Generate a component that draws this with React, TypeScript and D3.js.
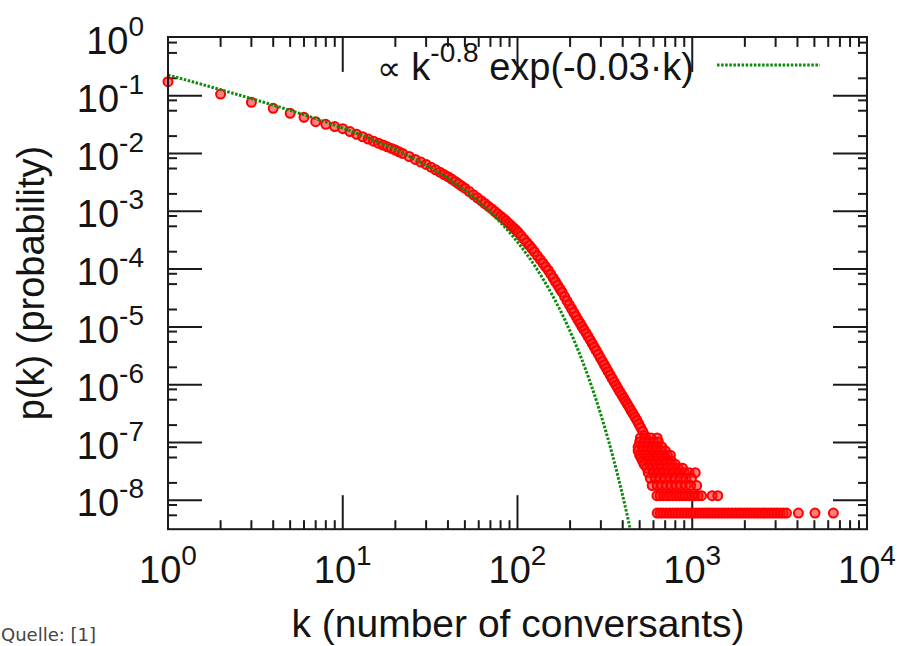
import React from "react";
import * as d3 from "d3";

// ---- data ----
const xTickExponents = [0, 1, 2, 3, 4];
const yTickExponents = [0, -1, -2, -3, -4, -5, -6, -7, -8];
const xMinorMultipliers = [2, 3, 4, 5, 6, 7, 8, 9];
const yMinorMultipliers = [2, 5.5, 8.3];

// main band: k and log10 p(k)
const mainK = [
  1, 2, 3, 4, 5, 6, 7, 8, 9, 10, 11, 12, 13, 14, 15, 16, 17, 18, 19, 20, 21, 22, 24, 26, 28, 30,
  32, 34, 36, 38, 40, 42, 44, 46, 48, 50, 53, 56, 59, 62, 65, 68, 71, 74, 77, 80, 83, 86, 89, 92,
  95, 98, 101, 105, 109, 113, 117, 121, 125, 130, 135, 140, 145, 150, 155, 160, 165, 170, 175, 180,
  186, 192, 198, 204, 210, 216, 222, 228, 234, 240, 247, 254, 261, 268, 275, 282, 290, 298, 306,
  314, 322, 330, 339, 348, 357, 366, 375, 385, 395, 405, 415, 425, 436, 447, 458, 470, 482, 494,
  506, 520, 535, 550, 565, 580,
];
const mainLog10P = [
  -0.758, -0.971, -1.114, -1.218, -1.304, -1.374, -1.45, -1.495, -1.535, -1.57, -1.621, -1.667,
  -1.71, -1.75, -1.786, -1.821, -1.853, -1.884, -1.913, -1.94, -1.97, -1.999, -2.052, -2.102,
  -2.148, -2.19, -2.237, -2.282, -2.324, -2.364, -2.402, -2.442, -2.484, -2.524, -2.563, -2.6,
  -2.659, -2.714, -2.767, -2.817, -2.865, -2.911, -2.955, -3.0, -3.043, -3.084, -3.124, -3.164,
  -3.207, -3.247, -3.287, -3.325, -3.365, -3.425, -3.482, -3.538, -3.591, -3.644, -3.701, -3.77,
  -3.836, -3.899, -3.961, -4.02, -4.088, -4.154, -4.219, -4.281, -4.341, -4.4, -4.475, -4.548,
  -4.618, -4.686, -4.752, -4.817, -4.88, -4.937, -4.993, -5.048, -5.109, -5.169, -5.229, -5.29,
  -5.349, -5.407, -5.472, -5.535, -5.596, -5.655, -5.714, -5.77, -5.832, -5.892, -5.951, -6.009,
  -6.063, -6.12, -6.176, -6.23, -6.283, -6.335, -6.391, -6.447, -6.501, -6.559, -6.615, -6.677,
  -6.737, -6.805, -6.877, -6.953, -7.03, -7.106,
];

// sparse tail: number of users observed at each k (p = users * probPerUser)
const probPerUser = 6e-9;
const tailUsers = [20, 17, 14, 12, 10, 9, 8, 7, 6, 5, 4, 3, 2, 1];
const tailK = [
  [505, 540, 580, 630],
  [500, 530, 565, 600, 640],
  [490, 520, 555, 590, 630, 670],
  [490, 520, 550, 585, 620, 660, 700],
  [500, 530, 565, 600, 640, 680, 720, 750],
  [510, 545, 580, 620, 660, 700],
  [520, 555, 590, 630, 670, 720, 760],
  [530, 570, 610, 650, 700, 750, 800],
  [550, 590, 630, 670, 720, 770, 830, 880],
  [560, 600, 640, 680, 730, 780, 840, 900, 960, 1040],
  [575, 615, 655, 700, 750, 800, 860, 920, 990],
  [590, 630, 670, 715, 760, 810, 860, 920, 980, 1060],
  [628, 655, 685, 715, 745, 775, 810, 845, 880, 915, 955, 995, 1035, 1080, 1130, 1300, 1400],
  [
    630, 655, 680, 710, 740, 770, 800, 830, 865, 900, 935, 975, 1010, 1050, 1095, 1140, 1185, 1230,
    1280, 1330, 1385, 1440, 1500, 1560, 1620, 1690, 1760, 1830, 1900, 1980, 2060, 2140, 2230, 2320,
    2410, 2510, 2610, 2720, 2830, 2940, 3060, 3190, 3320, 3460, 4050, 5040, 6420,
  ],
];

// fitted model from the legend: p ∝ k^-0.8 exp(-0.03 k)
const fitAmplitude = 0.235;
const fitExponent = 0.8;
const fitCutoff = 0.03;

// ---- layout ----
const W = 900;
const H = 646;
const left = 168;
const right = 867;
const top = 37.9;
const bottom = 529.2;
const FONT = "'Liberation Sans', Arial, Helvetica, sans-serif";
const TXT = "#141414";

export default function App() {
  const x = d3.scaleLog().domain([1, 1e4]).range([left, right]);
  const y = d3.scaleLog().domain([1, Math.pow(10, -8.5)]).range([top, bottom]);

  const points: { k: number; p: number }[] = [];
  mainK.forEach((k, i) => points.push({ k, p: Math.pow(10, mainLog10P[i]) }));
  tailUsers.forEach((n, i) => tailK[i].forEach((k) => points.push({ k, p: n * probPerUser })));

  const fit = (k: number) => fitAmplitude * Math.pow(k, -fitExponent) * Math.exp(-fitCutoff * k);
  const fitKs = d3.range(0, 2.75, 0.004).map((t) => Math.pow(10, t));
  const fitLine = d3
    .line<number>()
    .x((k) => x(k))
    .y((k) => y(Math.max(fit(k), 1e-10)))(fitKs);

  const majLen = 34;
  const minLen = 9;

  const xMinor: number[] = [];
  for (let d = 0; d < 4; d++) xMinorMultipliers.forEach((m) => xMinor.push(m * Math.pow(10, d)));
  const yMinor: number[] = [];
  for (let e = -1; e >= -9; e--)
    yMinorMultipliers.forEach((m) => {
      const v = m * Math.pow(10, e);
      if (v >= Math.pow(10, -8.5) && v < 1) yMinor.push(v);
    });

  const stroke = "#1a1a1a";

  return (
    <svg
      width={W}
      height={H}
      style={{ position: "absolute", left: 0, top: 0, background: "#fff" }}
      fontFamily={FONT}
    >
      <defs>
        <clipPath id="plotClip">
          <rect x={left} y={top - 1} width={right - left} height={bottom - top + 1} />
        </clipPath>
      </defs>
      <rect x={0} y={0} width={W} height={H} fill="#fff" />

      {/* ticks */}
      <g stroke={stroke} strokeWidth={2}>
        {xTickExponents.slice(1, -1).map((e) => (
          <g key={"xM" + e}>
            <line x1={x(Math.pow(10, e))} x2={x(Math.pow(10, e))} y1={bottom} y2={bottom - majLen} />
            <line x1={x(Math.pow(10, e))} x2={x(Math.pow(10, e))} y1={top} y2={top + majLen} />
          </g>
        ))}
        {xMinor.map((k, i) => (
          <g key={"xm" + i}>
            <line x1={x(k)} x2={x(k)} y1={bottom} y2={bottom - minLen} />
            <line x1={x(k)} x2={x(k)} y1={top} y2={top + minLen} />
          </g>
        ))}
        {yTickExponents.slice(1).map((e) => (
          <g key={"yM" + e}>
            <line x1={left} x2={left + majLen} y1={y(Math.pow(10, e))} y2={y(Math.pow(10, e))} />
            <line x1={right} x2={right - majLen} y1={y(Math.pow(10, e))} y2={y(Math.pow(10, e))} />
          </g>
        ))}
        {yMinor.map((v, i) => (
          <g key={"ym" + i}>
            <line x1={left} x2={left + minLen} y1={y(v)} y2={y(v)} />
            <line x1={right} x2={right - minLen} y1={y(v)} y2={y(v)} />
          </g>
        ))}
      </g>

      {/* data points */}
      <g>
        {points.map((d, i) => (
          <circle
            key={i}
            cx={x(d.k)}
            cy={y(d.p)}
            r={4.5}
            fill="rgba(255,20,20,0.55)"
            stroke="#ff0000"
            strokeWidth={2}
          />
        ))}
      </g>

      {/* fit line */}
      <path
        d={fitLine || ""}
        fill="none"
        stroke="#0b8a0b"
        strokeWidth={3}
        strokeDasharray="2.5,1.6"
        clipPath="url(#plotClip)"
      />

      {/* frame */}
      <rect x={left} y={top - 0.9} width={right - left} height={bottom - top + 0.9} fill="none" stroke={stroke} strokeWidth={2} />

      {/* legend */}
      <text x={694} y={80} textAnchor="end" fontSize={38} fill={TXT}>
        <tspan fontSize={34}>∝</tspan>
        <tspan> k</tspan>
        <tspan dy={-18} fontSize={28}>-0.8</tspan>
        <tspan dy={18}> exp(-0.03·k)</tspan>
      </text>
      <line x1={717} x2={820} y1={65} y2={65} stroke="#0b8a0b" strokeWidth={3} strokeDasharray="2.5,1.6" />

      {/* y tick labels */}
      {yTickExponents.map((e) => (
        <text key={"yl" + e} x={144} y={y(Math.pow(10, e)) + 16} textAnchor="end" fontSize={38} fill={TXT}>
          <tspan>10</tspan>
          <tspan dy={-18} fontSize={28}>{String(e)}</tspan>
        </text>
      ))}

      {/* x tick labels */}
      {xTickExponents.map((e) => (
        <text key={"xl" + e} x={x(Math.pow(10, e))} y={583} textAnchor="middle" fontSize={38} fill={TXT}>
          <tspan>10</tspan>
          <tspan dy={-18} fontSize={28}>{String(e)}</tspan>
        </text>
      ))}

      {/* axis titles */}
      <text x={518} y={637} textAnchor="middle" fontSize={39} fill={TXT}>
        k (number of conversants)
      </text>
      <text transform="translate(44,283) rotate(-90)" textAnchor="middle" fontSize={38} fill={TXT}>
        p(k) (probability)
      </text>

      {/* source note */}
      <text x={1} y={641} fontSize={18} fill="#444" fontFamily="'DejaVu Sans', 'Open Sans', sans-serif">
        Quelle: [1]
      </text>
    </svg>
  );
}
